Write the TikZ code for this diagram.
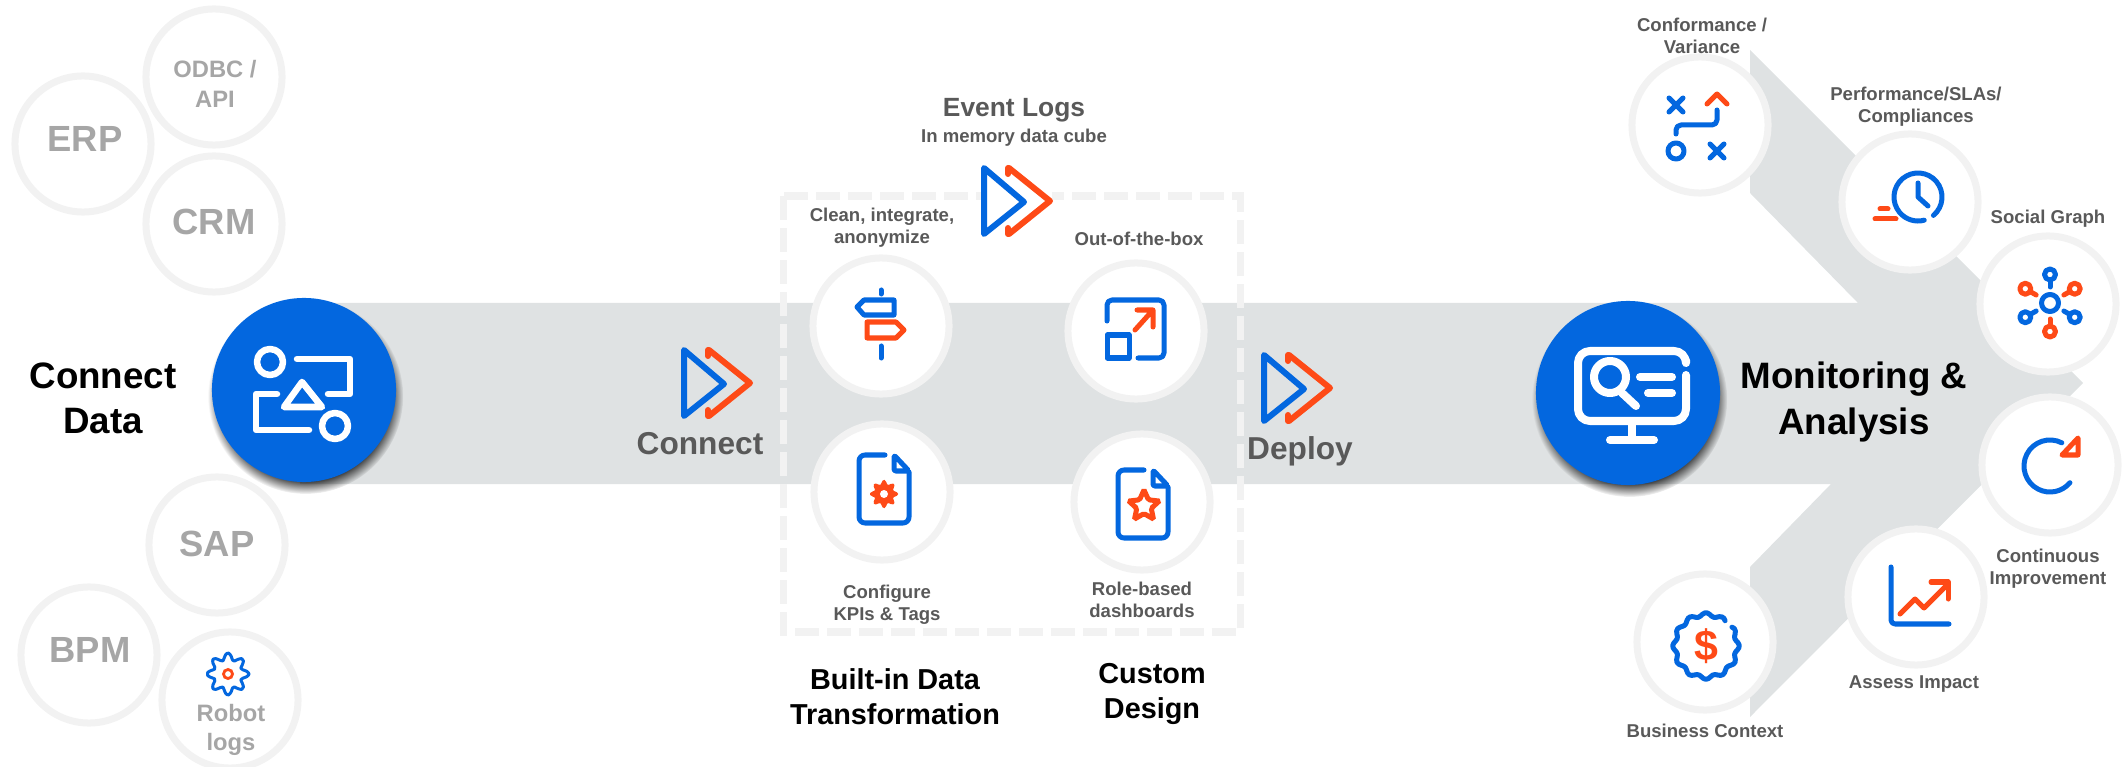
\documentclass[tikz,border=0pt]{standalone}
\usepackage{fontspec}
\setmainfont{Liberation Sans}
\usetikzlibrary{shapes.geometric,shadows}
\definecolor{iconblue}{HTML}{0367DF}
\definecolor{iconorange}{HTML}{FE4A17}
\definecolor{bandgray}{HTML}{DFE2E3}
\definecolor{ringgray}{HTML}{F2F2F2}
\definecolor{srcgray}{HTML}{A6A6A6}
\definecolor{labelgray}{HTML}{595959}

\begin{document}
\begin{tikzpicture}[
	x=.01cm,y=-.01cm,
	% Circles
	ring/.style={circle,draw=ringgray,fill=white,line width=.07cm,minimum size=1.36cm,inner sep=0pt,outer sep=0pt},
	hub/.style={circle,fill=iconblue,minimum size=1.84cm,inner sep=0pt,outer sep=0pt,
		circular drop shadow={shadow xshift=.015cm,shadow yshift=-.06cm,shadow scale=1.06,fill=black,opacity=.8}},
	% Text
	srctext/.style={inner sep=0pt,align=center,text=srcgray,font=\bfseries\fontsize{10.35}{12}\selectfont},
	srcsmall/.style={inner sep=0pt,align=center,text=srcgray,font=\bfseries\fontsize{6.75}{8.4}\selectfont},
	small/.style={inner sep=0pt,align=center,text=labelgray,font=\bfseries\fontsize{5.28}{6.3}\selectfont},
	stage/.style={inner sep=0pt,align=center,text=labelgray,font=\bfseries\fontsize{9}{11}\selectfont},
	head/.style={inner sep=0pt,align=center,text=black,font=\bfseries\fontsize{10.45}{12.8}\selectfont},
	subhead/.style={inner sep=0pt,align=center,text=black,font=\bfseries\fontsize{8.2}{10}\selectfont},
	% Icon strokes
	blueline/.style={draw=iconblue,line width=.05cm,line cap=round,line join=round},
	orangeline/.style={draw=iconorange,line width=.05cm,line cap=round,line join=round},
	whiteline/.style={draw=white,line width=.065cm,line cap=round,line join=round},
	% Double arrow and sheet icons
	dblarrow/.pic={
		\draw [blueline,line width=.06cm] (0,-33) -- (40,1) -- (0,33) -- cycle;
		\draw [orangeline,line width=.06cm] (25,-33) -- (66,0) -- (25,33);
		\draw [orangeline,line width=.06cm] (24,-33) -- (24,-27) (24,33) -- (24,27);
	},
	docsheet/.pic={
		\draw [blueline,rounded corners=.06cm] (26,-39) -- (0,-39) -- (0,29) -- (50,29) -- (50,-22);
		\draw [blueline,rounded corners=.015cm] (35,-39) -- (50,-23) -- (35,-23) -- cycle;
	}
	]
	\useasboundingbox (0,0) rectangle (2123,767);
	%% Arrow band
	\fill [bandgray] (300,303) -- (1858,303) -- (1750,193) -- (1750,50) -- (2083,383) -- (1750,717) -- (1750,567) -- (1831,484) -- (300,484) -- cycle;
	%% Data sources
	\node (erp) [ring] at (83,144) {};
	\node (odbc) [ring] at (214,77) {};
	\node (crm) [ring] at (214,224) {};
	\node (sap) [ring] at (217,545) {};
	\node (bpm) [ring] at (89,655) {};
	\node (robot) [ring] at (230,700) {};
	\node (erplabel) [srctext] at (85,139) {ERP};
	\node (odbclabel) [srcsmall] at (215,84) {ODBC /\\API};
	\node (crmlabel) [srctext] at (214,222) {CRM};
	\node (saplabel) [srctext] at (217,544) {SAP};
	\node (bpmlabel) [srctext] at (90,650) {BPM};
	\node (robotlabel) [srcsmall] at (231,730) {Robot\\logs};
	\draw [blueline,line width=.03cm,shift={(228,674)}] plot [smooth cycle,domain=0:352,samples=45] (\x:{17.5+3.5*cos(8*\x)});
	\draw [iconorange,line width=.028cm] (228,674) circle [radius=.045cm];
	%% Connect data
	\node (connectdata) [head] at (103,398) {Connect\\Data};
	\node (hubleft) [hub] at (304,390) {};
	\draw [whiteline] (270,362) circle [radius=.13cm];
	\draw [whiteline] (335,426) circle [radius=.13cm];
	\draw [whiteline] (297,359) -- (350,359) -- (350,394) -- (328,394);
	\draw [whiteline] (277,394) -- (256,394) -- (256,430) -- (309,430);
	\draw [whiteline] (302,382) -- (322,407) -- (284,407) -- cycle;
	%% Connect, event logs and deploy
	\draw [ringgray,line width=.07cm,dash pattern=on .24cm off .08cm] (783,196) rectangle (1240,632);
	\fill [white] (981,164) rectangle (1052,238);
	\pic (arrowconnect) at (684,383) {dblarrow};
	\pic (arrowevent) at (984,201) {dblarrow};
	\pic (arrowdeploy) at (1264,388) {dblarrow};
	\node (connect) [stage] at (700,444) {Connect};
	\node (deploy) [stage] at (1300,451) {Deploy};
	\node (eventlogs) [inner sep=0pt,text=labelgray,font=\bfseries\fontsize{7.5}{9}\selectfont] at (1014,110) {Event Logs};
	\node (datacube) [small] at (1014,138) {In memory data cube};
	%% Transformation circles
	\node (clean) [ring] at (881,326) {};
	\node (outbox) [ring] at (1136,331) {};
	\node (kpis) [ring] at (882,492) {};
	\node (roles) [ring] at (1142,502) {};
	\node (cleanlabel) [small] at (882,228) {Clean, integrate,\\anonymize};
	\node (outboxlabel) [small] at (1139,239) {Out-of-the-box};
	\node (kpislabel) [small] at (887,605) {Configure\\KPIs \& Tags};
	\node (roleslabel) [small] at (1142,600) {Role-based\\dashboards};
	\node (builtin) [subhead] at (895,697) {Built-in Data\\Transformation};
	\node (custom) [subhead] at (1152,694) {Custom\\Design};
	% signpost
	\draw [blueline] (881,290) -- (881,294) (881,346) -- (881,358);
	\draw [blueline] (857,307) -- (864,300) -- (894,300) -- (894,315) -- (864,315) -- cycle;
	\draw [orangeline] (867,322) -- (896,322) -- (904,330) -- (896,338) -- (867,338) -- cycle;
	% out of the box
	\draw [blueline,rounded corners=.05cm] (1107,321) -- (1107,300) -- (1164,300) -- (1164,358) -- (1138,358);
	\draw [blueline] (1107,335) rectangle (1129,358);
	\draw [orangeline] (1135,330) -- (1153,310) (1137,310) -- (1153,310) -- (1153,327);
	% sheets
	\pic (sheetgear) at (859,494) {docsheet};
	\pic (sheetstar) at (1118,509) {docsheet};
	\fill [iconorange,shift={(884,494)}] plot [smooth cycle,domain=0:352,samples=45] (\x:{12+2.2*cos(8*\x)});
	\fill [white] (884,494) circle [radius=.04cm];
	\node (star) [star,star points=5,star point ratio=2.1,draw=iconorange,line width=.05cm,minimum size=.32cm,inner sep=0pt,rounded corners=.015cm] at (1144,506) {};
	%% Monitoring
	\node (hubright) [hub] at (1628,393) {};
	\begin{scope}[xshift=-.02cm]
	\draw [whiteline,line width=.08cm,rounded corners=.12cm] (1688,360) -- (1688,351) -- (1580,351) -- (1580,421) -- (1688,421) -- (1688,375);
	\draw [whiteline,line width=.08cm] (1634,425) -- (1634,440) (1612,440) -- (1656,440);
	\draw [whiteline,line width=.08cm] (1612,377) circle [radius=.16cm];
	\draw [whiteline,line width=.08cm] (1624,393) -- (1638,406);
	\draw [whiteline,line width=.08cm] (1642,377) -- (1674,377) (1650,393) -- (1674,393);
	\end{scope}
	\node (monitoring) [head] at (1854,402) {Monitoring \&\\Analysis};
	%% Outcome circles
	\node (conformance) [ring] at (1700,125) {};
	\node (performance) [ring] at (1910,202) {};
	\node (social) [ring] at (2048,304) {};
	\node (improve) [ring] at (2050,465) {};
	\node (impact) [ring] at (1916,597) {};
	\node (context) [ring] at (1705,642) {};
	\node (conformancelabel) [small] at (1702,36) {Conformance /\\Variance};
	\node (performancelabel) [small] at (1916,107) {Performance/SLAs/\\Compliances};
	\node (sociallabel) [small] at (2048,219) {Social Graph};
	\node (improvelabel) [small] at (2048,569) {Continuous\\Improvement};
	\node (impactlabel) [small] at (1914,684) {Assess Impact};
	\node (contextlabel) [small] at (1705,731) {Business Context};
	% conformance
	\begin{scope}[xshift=-.02cm]
	\draw [blueline] (1671,98) -- (1685,112) (1685,98) -- (1671,112);
	\draw [blueline] (1712,144) -- (1726,158) (1726,144) -- (1712,158);
	\draw [blueline] (1678,151) circle [radius=.08cm];
	\draw [blueline,rounded corners=.05cm] (1719,110) -- (1719,125) -- (1678,125) -- (1678,134);
	\draw [orangeline] (1709,104) -- (1719,94) -- (1729,104);
	\end{scope}
	% performance
	\begin{scope}[xshift=-.03cm]
	\draw [blueline] ([shift={(-50:.24cm)}]1921,197) arc [start angle=-50,end angle=285,radius=.24cm];
	\draw [blueline] (1921,183) -- (1921,197) -- (1931,206);
	\draw [orangeline] (1883,209) -- (1891,209) (1878,219) -- (1899,219);
	\end{scope}
	% social graph
	\draw [blueline] (2050,303) circle [radius=.085cm];
	\foreach \a/\c in {90/blueline,30/orangeline,150/orangeline,210/blueline,270/orangeline,330/blueline}{
		\draw [\c] ([shift={(\a:.16cm)}]2050,303) -- ([shift={(\a:.22cm)}]2050,303);
		\draw [\c] ([shift={(\a:.285cm)}]2050,303) circle [radius=.055cm];
	}
	% improvement
	\draw [blueline] ([shift={(63:.26cm)}]2050,466) arc [start angle=63,end angle=320,radius=.26cm];
	\draw [orangeline] (2078,438) -- (2078,455) -- (2062,455) -- cycle;
	% impact
	\begin{scope}[xshift=-.03cm]
	\draw [blueline,rounded corners=.04cm] (1894,567) -- (1894,624) -- (1952,624);
	\draw [orangeline] (1903,614) -- (1918,599) -- (1927,608) -- (1948,587);
	\draw [orangeline] (1934,582) -- (1951,582) -- (1951,599);
	\end{scope}
	% business context
	\draw [blueline,shift={(1706,646)}] plot [smooth,domain=-36:307,samples=80] (\x:{31.5+1.8*cos(12*\x)});
	\node (dollar) [inner sep=0pt,text=iconorange,font=\bfseries\fontsize{12.2}{14}\selectfont] at (1706,646) {\$};
\end{tikzpicture}
\end{document}
